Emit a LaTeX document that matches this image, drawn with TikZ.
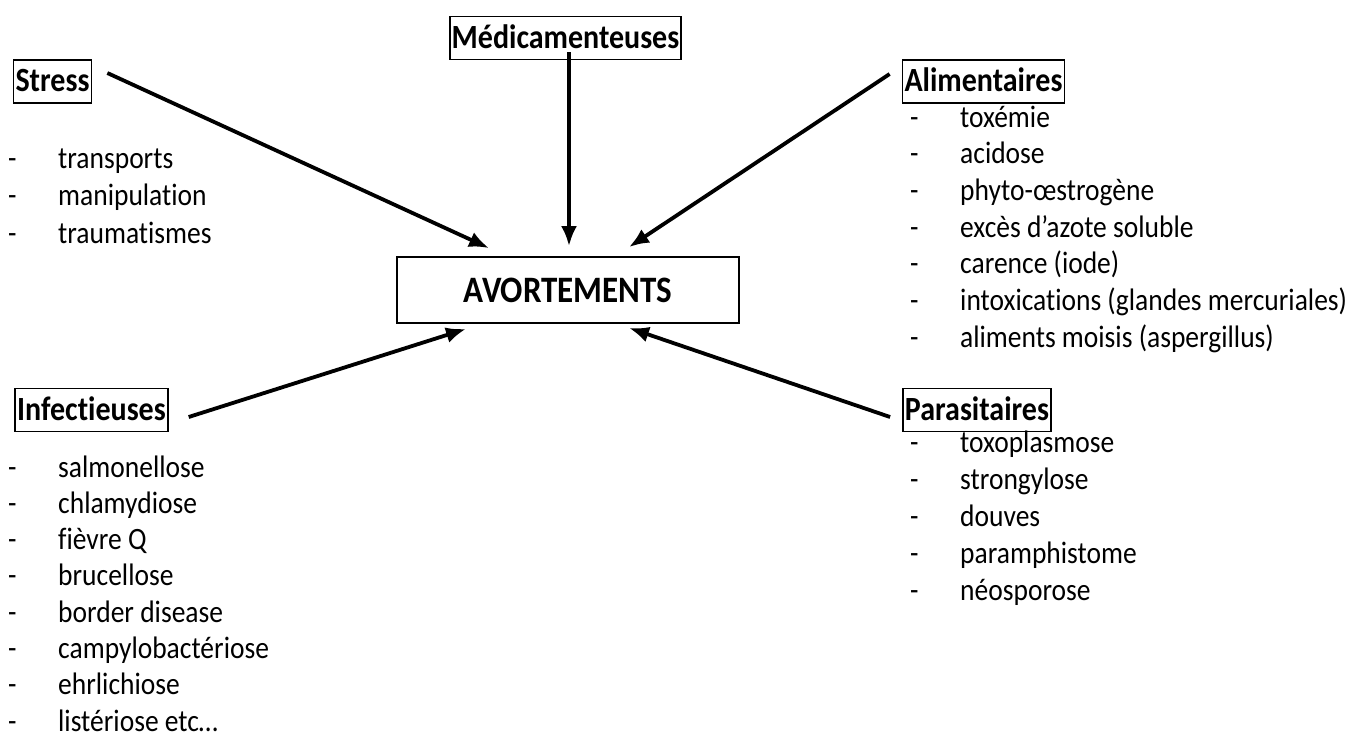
\documentclass[tikz,border=0pt]{standalone}
\usepackage{graphicx}
\usepackage{fontspec}
\setmainfont{Carlito}[Ligatures=NoCommon]
\usetikzlibrary{arrows.meta}
\tikzset{
  head/.style = {draw, line width=1.8pt, font=\bfseries\fontsize{30}{32}\selectfont,
    inner xsep=2pt, inner ysep=6.5pt, text height=25pt, text depth=5pt},
  item/.style = {anchor=base west, inner sep=0pt, font=\fontsize{27.5}{30}\selectfont},
  arr/.style = {line width=3.8pt, -{Latex[length=20pt,width=16pt]}}
}
\newcommand{\tall}[1]{\scalebox{1}[1.13]{#1}}
\newcommand{\dashitem}[1]{\tall{\makebox[50pt][l]{-}#1}}
\begin{document}
\begin{tikzpicture}[x=1pt, y=-1pt]
  \useasboundingbox (0,0) rectangle (1355,740);
  % centre
  \node[draw, line width=1.8pt, minimum width=342pt, minimum height=66pt,
    font=\bfseries\fontsize{33}{35}\selectfont] (avort) at (568,290) {\tall{AVORTEMENTS}};
  % causes
  \node[head] (medic) at (565.5,38) {\tall{Médicamenteuses}};
  \node[head] (stress) at (52.5,81.5) {\tall{Stress}};
  \node[head] (alim) at (983.5,81.5) {\tall{Alimentaires}};
  \node[head] (infect) at (91.5,410) {\tall{Infectieuses}};
  \node[head] (paras) at (977,410) {\tall{Parasitaires}};
  % lists
  \foreach \t [count=\i from 0] in {transports, manipulation, traumatismes}
    \node[item] (str\i) at (8, 168+37.5*\i) {\dashitem{\t}};
  \foreach \t [count=\i from 0] in {toxémie, acidose, phyto-œstrogène,
      excès d’azote soluble, carence (iode), intoxications (glandes mercuriales),
      aliments moisis (aspergillus)}
    \node[item] (ali\i) at (910, 127+36.7*\i) {\dashitem{\t}};
  \foreach \t [count=\i from 0] in {salmonellose, chlamydiose, fièvre Q, brucellose,
      border disease, campylobactériose, ehrlichiose, listériose etc…}
    \node[item] (inf\i) at (8, 477+36.3*\i) {\dashitem{\t}};
  \foreach \t [count=\i from 0] in {toxoplasmose, strongylose, douves,
      paramphistome, néosporose}
    \node[item] (par\i) at (910, 452+37*\i) {\dashitem{\t}};
  % arrows
  \draw[arr] ([shift={(15pt,8.5pt)}]stress.east) -- ([shift={(-79pt,8pt)}]avort.north);
  \draw[arr] ([shift={(3.5pt,8pt)}]medic.south) -- ([shift={(1pt,10pt)}]avort.north);
  \draw[arr] ([shift={(-12pt,7.5pt)}]alim.west) -- ([shift={(61pt,9pt)}]avort.north);
  \draw[arr] ([shift={(20pt,-7pt)}]infect.east) -- ([shift={(-102pt,-5pt)}]avort.south);
  \draw[arr] ([shift={(-12pt,-7pt)}]paras.west) -- ([shift={(61pt,-4pt)}]avort.south);
\end{tikzpicture}
\end{document}
